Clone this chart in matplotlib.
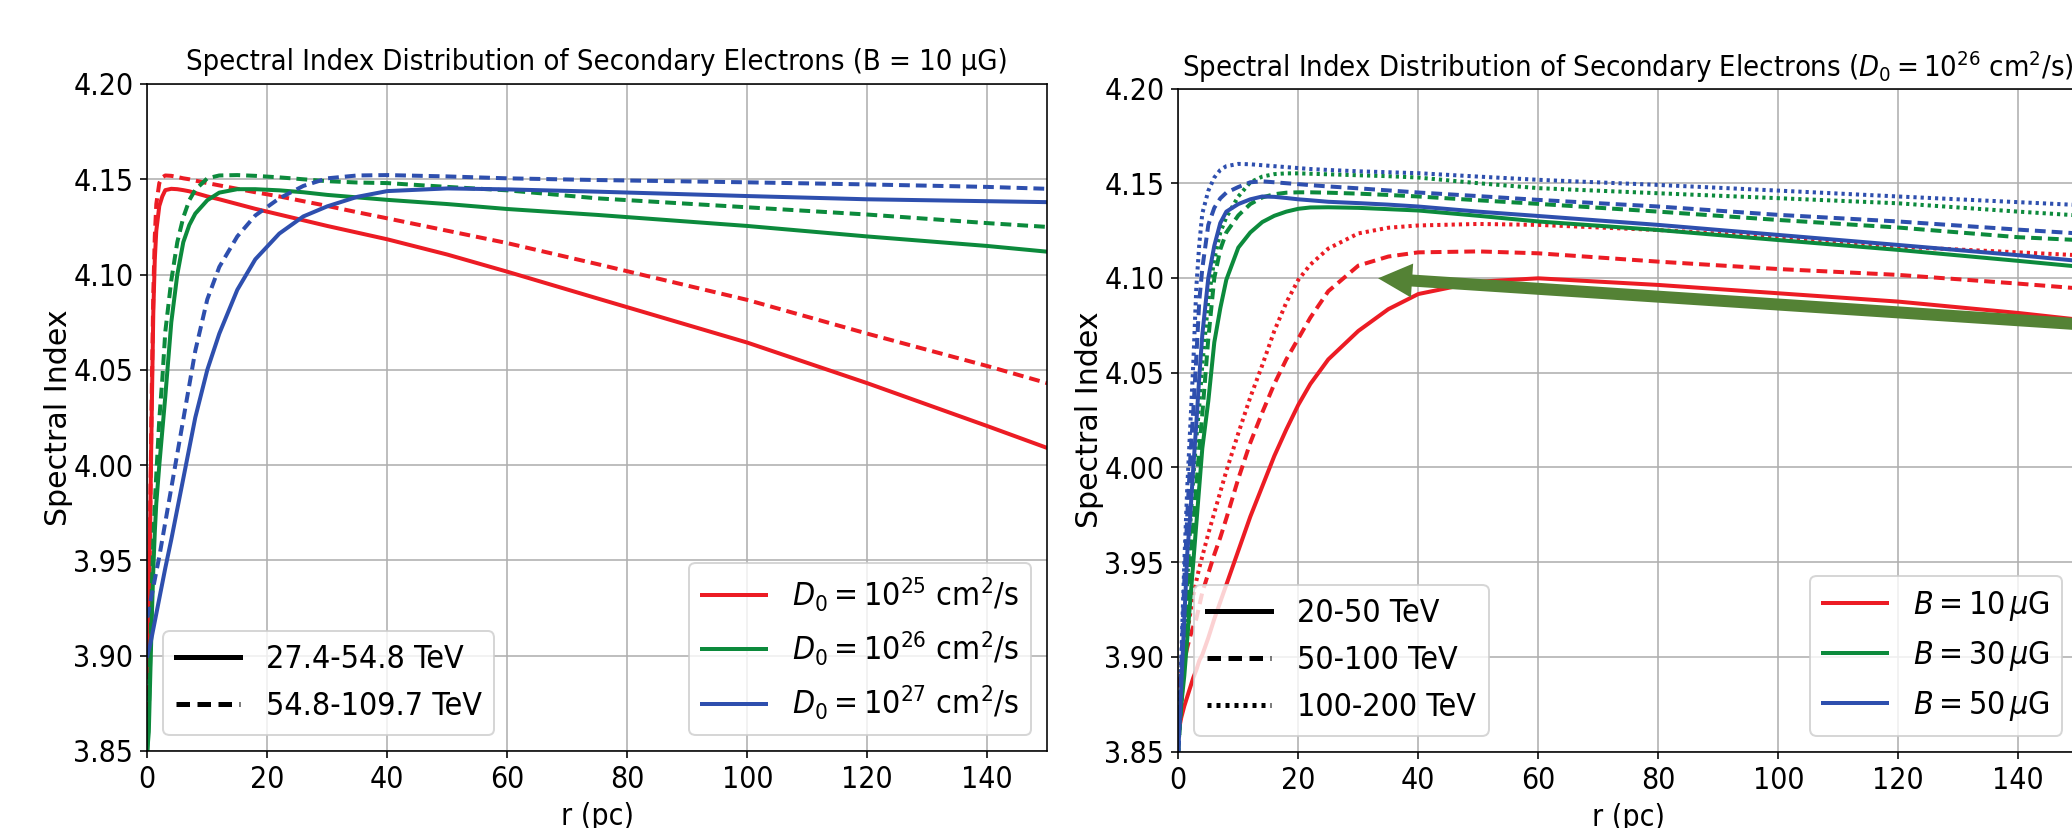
import numpy as np
import matplotlib.pyplot as plt
from matplotlib.lines import Line2D

# fuente condensada: la figura original esta comprimida en horizontal
plt.rcParams['font.family'] = ['DejaVu Sans']
plt.rcParams['font.stretch'] = 'condensed'
plt.rcParams['mathtext.fontset'] = 'custom'
plt.rcParams['mathtext.rm'] = 'DejaVu Sans:stretch=condensed'
plt.rcParams['mathtext.it'] = 'DejaVu Sans:italic:stretch=condensed'
plt.rcParams['mathtext.bf'] = 'DejaVu Sans:bold:stretch=condensed'

# ---------------- panel izquierdo (B = 10 uG) ----------------
r_left = [0, 0.25, 0.5, 0.75, 1, 1.25, 1.5, 2, 2.5, 3, 4, 5, 6, 7, 8, 10, 12, 15,
          18, 22, 26, 30, 35, 40, 50, 60, 75, 100, 120, 140, 150]

# D0 = 1e25
d25_low = [3.89, 3.93, 3.975, 4.03, 4.08, 4.108, 4.123, 4.136, 4.141, 4.1443, 4.145,
           4.1448, 4.1443, 4.1437, 4.1428, 4.141, 4.1395, 4.137, 4.1345, 4.1315,
           4.1285, 4.1255, 4.122, 4.1185, 4.1105, 4.1015, 4.0875, 4.0643, 4.043, 4.0205, 4.009]
d25_high = [3.87, 3.92, 3.98, 4.04, 4.09, 4.12, 4.137, 4.148, 4.151, 4.152, 4.1518,
            4.1512, 4.1505, 4.150, 4.1493, 4.148, 4.1468, 4.145, 4.1432, 4.141,
            4.1385, 4.136, 4.1327, 4.1295, 4.123, 4.1165, 4.1055, 4.0867, 4.069, 4.052, 4.043]
# D0 = 1e26
d26_low = [3.85, 3.86, 3.89, 3.92, 3.945, 3.965, 3.98, 4.0, 4.018, 4.036, 4.075,
           4.10, 4.117, 4.126, 4.132, 4.139, 4.143, 4.1448, 4.1448, 4.1442,
           4.1432, 4.1418, 4.1405, 4.1392, 4.137, 4.1344, 4.1313, 4.1255, 4.120, 4.115, 4.112]
d26_high = [3.85, 3.87, 3.90, 3.935, 3.96, 3.98, 3.995, 4.024, 4.045, 4.07, 4.097,
            4.117, 4.13, 4.139, 4.1445, 4.1505, 4.152, 4.1522, 4.1518, 4.151,
            4.150, 4.149, 4.1483, 4.148, 4.146, 4.1442, 4.140, 4.1353, 4.1315, 4.127, 4.125]
# D0 = 1e27
d27_low = [3.90, 3.903, 3.906, 3.91, 3.914, 3.918, 3.922, 3.93, 3.938, 3.946, 3.961,
           3.977, 3.993, 4.009, 4.025, 4.05, 4.069, 4.092, 4.108, 4.1215,
           4.1305, 4.1358, 4.1408, 4.1438, 4.1452, 4.1447, 4.1435, 4.1412, 4.1395, 4.1385, 4.138]
d27_high = [3.92, 3.924, 3.928, 3.932, 3.936, 3.94, 3.944, 3.952, 3.961, 3.97, 3.988,
            4.006, 4.024, 4.042, 4.06, 4.087, 4.104, 4.12, 4.131, 4.140,
            4.1465, 4.1505, 4.152, 4.1522, 4.1515, 4.1505, 4.1496, 4.1484, 4.1473, 4.146, 4.145]

# ---------------- panel derecho (D0 = 1e26) ----------------
r_right = [0, 0.5, 1, 1.5, 2, 2.5, 3, 3.5, 4, 5, 6, 7, 8, 10, 12, 14, 16, 18, 20,
           22, 25, 30, 35, 40, 50, 60, 80, 100, 120, 140, 150]

# B = 10 uG
b10_e1 = [3.86, 3.868, 3.874, 3.879, 3.884, 3.889, 3.893, 3.898, 3.901, 3.91, 3.92,
          3.929, 3.938, 3.956, 3.974, 3.99, 4.006, 4.02, 4.033, 4.044, 4.057,
          4.072, 4.0835, 4.0915, 4.098, 4.0998, 4.0963, 4.0919, 4.0875, 4.0815, 4.078]
b10_e2 = [3.885, 3.89, 3.898, 3.905, 3.911, 3.916, 3.92, 3.927, 3.934, 3.944, 3.954,
          3.963, 3.973, 3.994, 4.013, 4.029, 4.044, 4.057, 4.068, 4.079, 4.093,
          4.1065, 4.1113, 4.1135, 4.114, 4.113, 4.1086, 4.1047, 4.1016, 4.097, 4.0945]
b10_e3 = [3.88, 3.892, 3.903, 3.913, 3.923, 3.932, 3.94, 3.947, 3.953, 3.965, 3.976,
          3.987, 3.998, 4.018, 4.037, 4.054, 4.072, 4.087, 4.099, 4.107, 4.1155,
          4.1235, 4.1265, 4.1277, 4.1285, 4.128, 4.1253, 4.1215, 4.1165, 4.1135, 4.112]
# B = 30 uG
b30_e1 = [3.86, 3.875, 3.89, 3.91, 3.93, 3.95, 3.97, 3.99, 4.01, 4.035, 4.066,
          4.084, 4.099, 4.116, 4.124, 4.1295, 4.1328, 4.135, 4.1365, 4.1372, 4.1373,
          4.137, 4.1363, 4.1356, 4.1328, 4.1298, 4.1253, 4.120, 4.1148, 4.109, 4.106]
b30_e2 = [3.85, 3.875, 3.90, 3.925, 3.95, 3.97, 3.99, 4.01, 4.028, 4.068, 4.10,
          4.115, 4.124, 4.133, 4.139, 4.1425, 4.1442, 4.145, 4.1452, 4.1452, 4.145,
          4.1445, 4.1438, 4.143, 4.141, 4.1391, 4.135, 4.1306, 4.1266, 4.1215, 4.12]
b30_e3 = [3.85, 3.88, 3.91, 3.94, 3.97, 3.995, 4.015, 4.033, 4.054, 4.088, 4.11,
          4.124, 4.132, 4.143, 4.1505, 4.1535, 4.1548, 4.1552, 4.1552, 4.155, 4.1547,
          4.1542, 4.1537, 4.153, 4.150, 4.1474, 4.1447, 4.1421, 4.1394, 4.135, 4.133]
# B = 50 uG
b50_e1 = [3.85, 3.885, 3.92, 3.955, 3.975, 4.0, 4.023, 4.048, 4.07, 4.10, 4.117,
          4.129, 4.135, 4.139, 4.1415, 4.143, 4.1428, 4.1422, 4.1415, 4.141, 4.1402,
          4.1395, 4.1387, 4.1377, 4.135, 4.1327, 4.128, 4.1227, 4.1174, 4.112, 4.109]
b50_e2 = [3.85, 3.895, 3.94, 3.975, 4.005, 4.03, 4.058, 4.088, 4.105, 4.128, 4.137,
          4.142, 4.145, 4.148, 4.1505, 4.151, 4.1505, 4.150, 4.1495, 4.149, 4.1483,
          4.1473, 4.1462, 4.1451, 4.1432, 4.1412, 4.1377, 4.1333, 4.1298, 4.1255, 4.1235]
b50_e3 = [3.85, 3.90, 3.95, 3.99, 4.022, 4.055, 4.095, 4.118, 4.134, 4.146, 4.153,
          4.157, 4.159, 4.1602, 4.160, 4.1595, 4.159, 4.1585, 4.158, 4.1575, 4.157,
          4.1563, 4.1558, 4.1553, 4.1535, 4.1518, 4.1491, 4.1461, 4.143, 4.14, 4.1385]

red, green, blue = '#ec1c24', '#0c8a3c', '#2e4fae'
arrow_color = '#548235'

# trazos mas cortos que los de matplotlib por defecto
solid = '-'
dashed = (0, (2.7, 1.5))
dotted = (0, (0.8, 1.0))

fig = plt.figure(figsize=(2072 / 144, 828 / 144), dpi=144)
ax1 = fig.add_axes([0.07109, 0.0930, 0.43436, 0.80556])
ax2 = fig.add_axes([0.56868, 0.09239, 0.43436, 0.80072])

lw = 2

# panel izquierdo
for vals, c, ls in [(d25_low, red, solid), (d25_high, red, dashed),
                    (d26_low, green, solid), (d26_high, green, dashed),
                    (d27_low, blue, solid), (d27_high, blue, dashed)]:
    ax1.plot(r_left, vals, color=c, ls=ls, lw=lw)

# panel derecho
for vals, c, ls in [(b10_e1, red, solid), (b10_e2, red, dashed), (b10_e3, red, dotted),
                    (b30_e1, green, solid), (b30_e2, green, dashed), (b30_e3, green, dotted),
                    (b50_e1, blue, solid), (b50_e2, blue, dashed), (b50_e3, blue, dotted)]:
    ax2.plot(r_right, vals, color=c, ls=ls, lw=lw)

for ax in (ax1, ax2):
    ax.set_xlim(0, 150)
    ax.set_ylim(3.85, 4.20)
    ax.set_xticks(np.arange(0, 141, 20))
    ax.set_yticks(np.arange(3.85, 4.201, 0.05))
    ax.tick_params(labelsize=15)
    ax.grid(True)
    ax.set_xlabel('r (pc)', fontsize=15)
    ax.set_ylabel('Spectral Index', fontsize=15, fontstretch='normal', labelpad=0)

ax1.set_title('Spectral Index Distribution of Secondary Electrons (B = 10 μG)',
              fontsize=14.5, pad=7)
ax2.set_title('Spectral Index Distribution of Secondary Electrons '
              '($D_0 = 10^{26}$ cm$^2$/s)', fontsize=14.5, pad=6)

# leyendas panel izquierdo
style1 = [Line2D([0], [0], color='k', lw=2.5, ls=s) for s in (solid, dashed)]
leg = ax1.legend(style1, ['27.4-54.8 TeV', '54.8-109.7 TeV'], loc='lower left', fontsize=16)
ax1.add_artist(leg)
col1 = [Line2D([0], [0], color=c, lw=lw) for c in (red, green, blue)]
ax1.legend(col1, ['$D_0 = 10^{25}$ cm$^2$/s', '$D_0 = 10^{26}$ cm$^2$/s',
                  '$D_0 = 10^{27}$ cm$^2$/s'], loc='lower right', fontsize=16)

# leyendas panel derecho
style2 = [Line2D([0], [0], color='k', lw=2.5, ls=s) for s in (solid, dashed, dotted)]
leg = ax2.legend(style2, ['20-50 TeV', '50-100 TeV', '100-200 TeV'], loc='lower left', fontsize=16)
ax2.add_artist(leg)
col2 = [Line2D([0], [0], color=c, lw=lw) for c in (red, green, blue)]
ax2.legend(col2, [r'$B = 10\,\mu$G', r'$B = 30\,\mu$G', r'$B = 50\,\mu$G'],
           loc='lower right', fontsize=16)

# flecha verde
ax2.annotate('', xy=(33.3, 4.0998), xytext=(160, 4.0735),
             arrowprops=dict(facecolor=arrow_color, edgecolor='none', width=6,
                             headwidth=17, headlength=17, shrink=0),
             annotation_clip=False)

fig.savefig('out.png', dpi=144)
